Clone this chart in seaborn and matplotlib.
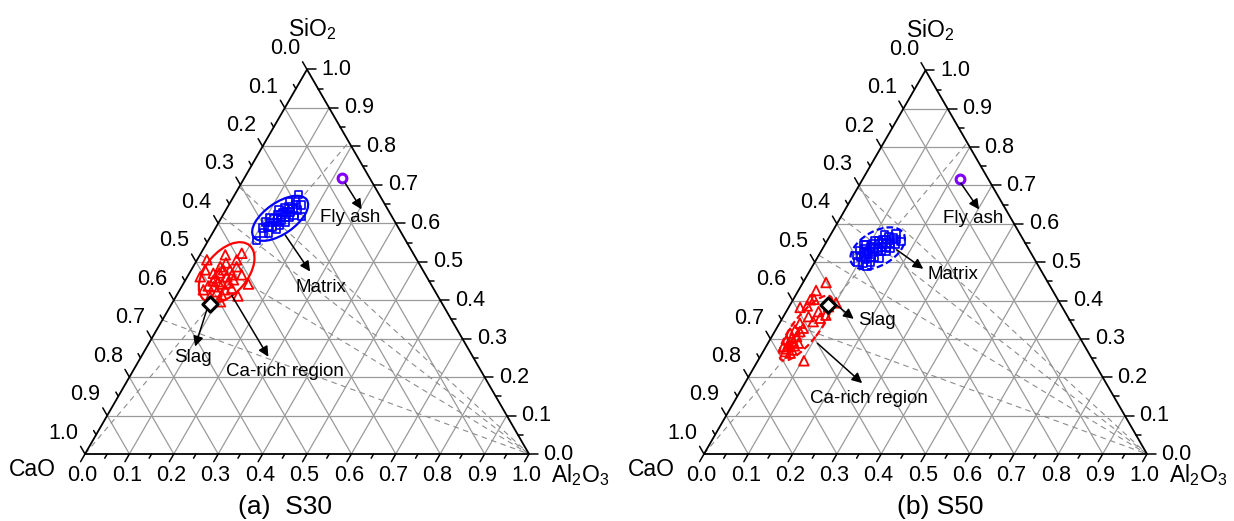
import numpy as np
import pandas as pd
import matplotlib
matplotlib.use("Agg")
import matplotlib.pyplot as plt
from matplotlib.patches import Ellipse
import seaborn as sns

H = np.sqrt(3) / 2

# ternary axes: bottom = Al2O3, right = SiO2, left = CaO (CaO = 1 - Al2O3 - SiO2)
TICKS = np.round(np.arange(0, 1.01, 0.1), 1)
MINOR = np.round(np.arange(0.05, 1.0, 0.1), 2)
GRID = np.round(np.arange(0.1, 1.0, 0.1), 1)

# dashed guide lines: CaO/SiO2 ratios (from Al2O3 corner), SiO2/Al2O3 ratio (from CaO corner)
CA_SI_RATIOS = [0.44, 0.62, 0.93, 1.87]
SI_AL_RATIOS = [4.3]

# raw materials (Al2O3, SiO2)
FLYASH = (0.219, 0.718)
SLAG = (0.086, 0.389)

# S30 matrix (Al2O3, SiO2)
s30_mat_al = [0.109, 0.115, 0.106, 0.127, 0.116, 0.105, 0.126, 0.117, 0.139, 0.110,
              0.128, 0.120, 0.140, 0.128, 0.137, 0.123, 0.149, 0.131, 0.120, 0.143,
              0.132, 0.151, 0.140, 0.129, 0.148, 0.161, 0.139, 0.150, 0.133, 0.161,
              0.151, 0.144, 0.162, 0.143, 0.179]
s30_mat_si = [0.555, 0.574, 0.588, 0.573, 0.591, 0.603, 0.589, 0.602, 0.585, 0.614,
              0.602, 0.612, 0.596, 0.612, 0.609, 0.622, 0.603, 0.622, 0.634, 0.616,
              0.628, 0.616, 0.629, 0.641, 0.629, 0.620, 0.642, 0.637, 0.657, 0.635,
              0.649, 0.660, 0.648, 0.675, 0.618]
# S30 Ca-rich region
s30_ca_al = [0.029, 0.022, 0.057, 0.092, 0.098, 0.147, 0.120, 0.061, 0.054, 0.089,
             0.076, 0.077, 0.101, 0.115, 0.086, 0.087, 0.072, 0.031, 0.108, 0.072,
             0.089, 0.064, 0.088, 0.100, 0.067, 0.102, 0.139, 0.063, 0.098, 0.059,
             0.069, 0.053, 0.107]
s30_ca_si = [0.461, 0.505, 0.518, 0.522, 0.487, 0.442, 0.466, 0.487, 0.470, 0.461,
             0.448, 0.409, 0.414, 0.431, 0.422, 0.479, 0.479, 0.479, 0.453, 0.435,
             0.505, 0.458, 0.442, 0.445, 0.471, 0.427, 0.411, 0.450, 0.466, 0.437,
             0.497, 0.427, 0.396]

# S50 matrix
s50_mat_al = [0.097, 0.086, 0.111, 0.097, 0.086, 0.110, 0.099, 0.125, 0.108, 0.096,
              0.120, 0.107, 0.093, 0.128, 0.118, 0.108, 0.139, 0.117, 0.107, 0.129,
              0.124, 0.107, 0.137, 0.121, 0.131, 0.116, 0.147, 0.128, 0.141, 0.124,
              0.137, 0.151, 0.132, 0.122, 0.146, 0.135, 0.157, 0.146, 0.155, 0.147,
              0.168, 0.123, 0.088]
s50_mat_si = [0.501, 0.517, 0.497, 0.514, 0.530, 0.509, 0.525, 0.501, 0.521, 0.536,
              0.514, 0.529, 0.546, 0.514, 0.526, 0.539, 0.511, 0.535, 0.547, 0.528,
              0.536, 0.556, 0.528, 0.547, 0.539, 0.556, 0.528, 0.550, 0.540, 0.559,
              0.549, 0.537, 0.559, 0.571, 0.550, 0.566, 0.547, 0.563, 0.559, 0.573,
              0.554, 0.490, 0.546]
# S50 Ca-rich region
s50_ca_al = [0.052, 0.040, 0.047, 0.026, 0.040, 0.073, 0.101, 0.094, 0.057, 0.046,
             0.074, 0.060, 0.037, 0.056, 0.055, 0.051, 0.050, 0.063, 0.039, 0.069,
             0.057, 0.104, 0.085, 0.089, 0.044, 0.063, 0.038, 0.039, 0.047, 0.063,
             0.048, 0.047]
s50_ca_si = [0.447, 0.426, 0.403, 0.382, 0.386, 0.371, 0.394, 0.362, 0.358, 0.341,
             0.345, 0.328, 0.315, 0.306, 0.293, 0.280, 0.267, 0.271, 0.280, 0.289,
             0.319, 0.243, 0.354, 0.384, 0.323, 0.263, 0.297, 0.402, 0.289, 0.282,
             0.274, 0.302]

# ellipse centres (Al2O3, SiO2) and size in ternary units
S30_ELL = {"mat": (0.133, 0.613, 0.146, 0.070, 35), "ca": (0.083, 0.472, 0.160, 0.094, 50)}
S50_ELL = {"mat": (0.124, 0.536, 0.135, 0.077, 30), "ca": (0.066, 0.328, 0.181, 0.058, 52)}

# annotations: (text, arrow start, arrow end, text position) in plot coords
S30_NOTES = [("Fly ash", (0.586, 0.610), (0.623, 0.551), (0.597, 0.532)),
             ("Matrix", (0.451, 0.493), (0.507, 0.411), (0.531, 0.376)),
             ("Slag", (0.274, 0.324), (0.248, 0.242), (0.243, 0.218)),
             ("Ca-rich region", (0.330, 0.358), (0.413, 0.219), (0.451, 0.185))]
S50_NOTES = [("Fly ash", (0.580, 0.611), (0.621, 0.552), (0.607, 0.532)),
             ("Matrix", (0.435, 0.461), (0.495, 0.418), (0.563, 0.406)),
             ("Slag", (0.282, 0.350), (0.338, 0.305), (0.391, 0.301)),
             ("Ca-rich region", (0.256, 0.250), (0.357, 0.160), (0.373, 0.126))]

sns.set_theme(style="white")
plt.rcParams["font.family"] = ["Liberation Sans", "DejaVu Sans"]
plt.rcParams["mathtext.default"] = "regular"
plt.rcParams["text.color"] = "black"

GRID_C = "#9a9a9a"


def xy(al, si):
    al = np.asarray(al, dtype=float)
    si = np.asarray(si, dtype=float)
    return al + si / 2, si * H


def frame(ax):
    # grid lines
    for v in GRID:
        ax.plot([v / 2, 1 - v / 2], [v * H, v * H], color=GRID_C, lw=0.9, zorder=1)   # SiO2
        ax.plot([v, v / 2 + 0.5], [0, (1 - v) * H], color=GRID_C, lw=0.9, zorder=1)    # Al2O3
        ax.plot([1 - v, (1 - v) / 2], [0, (1 - v) * H], color=GRID_C, lw=0.9, zorder=1)  # CaO
    # dashed guides
    for r in CA_SI_RATIOS:
        si = 1 / (1 + r)
        x0, y0 = xy(0, si)
        ax.plot([x0, 1], [y0, 0], color="#8c8c8c", lw=0.8, ls=(0, (5, 4)), zorder=1)
    for r in SI_AL_RATIOS:
        al = 1 / (1 + r)
        x1, y1 = xy(al, 1 - al)
        ax.plot([0, x1], [0, y1], color="#8c8c8c", lw=0.8, ls=(0, (5, 4)), zorder=1)
    # border
    ax.plot([0, 1, 0.5, 0], [0, 0, H, 0], color="black", lw=1.3, zorder=3)
    # ticks
    for vals, L in ((TICKS, 0.02), (MINOR, 0.011)):
        for v in vals:
            ax.plot([v, v - 0.5 * L], [0, -H * L], color="black", lw=1.1, zorder=3)
            px, py = 1 - v / 2, v * H
            ax.plot([px, px + L], [py, py], color="black", lw=1.1, zorder=3)
            px, py = (1 - v) / 2, (1 - v) * H
            ax.plot([px, px - 0.5 * L], [py, py + H * L], color="black", lw=1.1, zorder=3)
    for v in TICKS:
        lab = f"{v:.1f}"
        ax.text(v - 0.006, -0.049, lab, ha="center", va="center", fontsize=15.5)
        ax.text(1 - v / 2 + 0.067, v * H, lab, ha="center", va="center", fontsize=15.5)
        ax.text((1 - v) / 2 - 0.049, (1 - v) * H + 0.047, lab, ha="center", va="center", fontsize=15.5)


def panel(ax, mat_al, mat_si, ca_al, ca_si, ell, ell_ls, notes, title, title_x):
    frame(ax)
    mx, my = xy(mat_al, mat_si)
    cx, cy = xy(ca_al, ca_si)
    df_m = pd.DataFrame({"x": mx, "y": my})
    df_c = pd.DataFrame({"x": cx, "y": cy})
    sns.scatterplot(data=df_c, x="x", y="y", marker="^", s=48, facecolor="none",
                    edgecolor="#ff0000", linewidth=1.3, ax=ax, zorder=4)
    sns.scatterplot(data=df_m, x="x", y="y", marker="s", s=30, facecolor="none",
                    edgecolor="#0000ff", linewidth=1.2, ax=ax, zorder=4)
    for key, col in (("mat", "#0000ff"), ("ca", "#ff0000")):
        al, si, w, h, ang = ell[key]
        ex, ey = xy(al, si)
        ax.add_patch(Ellipse((ex, ey), w, h, angle=ang, fill=False, edgecolor=col,
                             lw=1.6, ls=ell_ls, zorder=5))
    sx, sy = xy(*SLAG)
    ax.scatter([sx], [sy], marker="D", s=60, facecolor="white", edgecolor="black", lw=2.2, zorder=6)
    fx, fy = xy(*FLYASH)
    ax.scatter([fx], [fy], marker="o", s=40, facecolor="white", edgecolor="#8000ff", lw=2.2, zorder=6)
    for txt, p0, p1, pt in notes:
        ax.annotate("", xy=p1, xytext=p0,
                    arrowprops=dict(arrowstyle="-|>", color="black", lw=1.1,
                                    mutation_scale=15, shrinkA=0, shrinkB=0), zorder=7)
        ax.text(pt[0], pt[1], txt, ha="center", va="center", fontsize=13.5, zorder=7)
    ax.text(0.511, 0.958, "SiO$_2$", ha="center", va="center", fontsize=16.5)
    ax.text(-0.118, -0.034, "CaO", ha="center", va="center", fontsize=16.5)
    ax.text(1.115, -0.047, "Al$_2$O$_3$", ha="center", va="center", fontsize=16.5)
    ax.text(title_x, -0.12, title, ha="center", va="center", fontsize=19)
    ax.set_axis_off()


fig = plt.figure(figsize=(12.34, 5.21), dpi=100)
ax1 = fig.add_axes([0, 0, 0.5, 1])
ax1.set_xlim(-85 / 444, 532 / 444)
ax1.set_ylim(-67 / 444, 454 / 444)
ax2 = fig.add_axes([0.5, 0, 0.5, 1])
ax2.set_xlim(-87 / 443, 530 / 443)
ax2.set_ylim(-67 / 443, 454 / 443)

panel(ax1, s30_mat_al, s30_mat_si, s30_ca_al, s30_ca_si, S30_ELL, "-", S30_NOTES, "(a)  S30", 0.45)
panel(ax2, s50_mat_al, s50_mat_si, s50_ca_al, s50_ca_si, S50_ELL, (0, (3, 1.5)), S50_NOTES, "(b) S50", 0.533)

fig.savefig("out.png", dpi=100, facecolor="white")
